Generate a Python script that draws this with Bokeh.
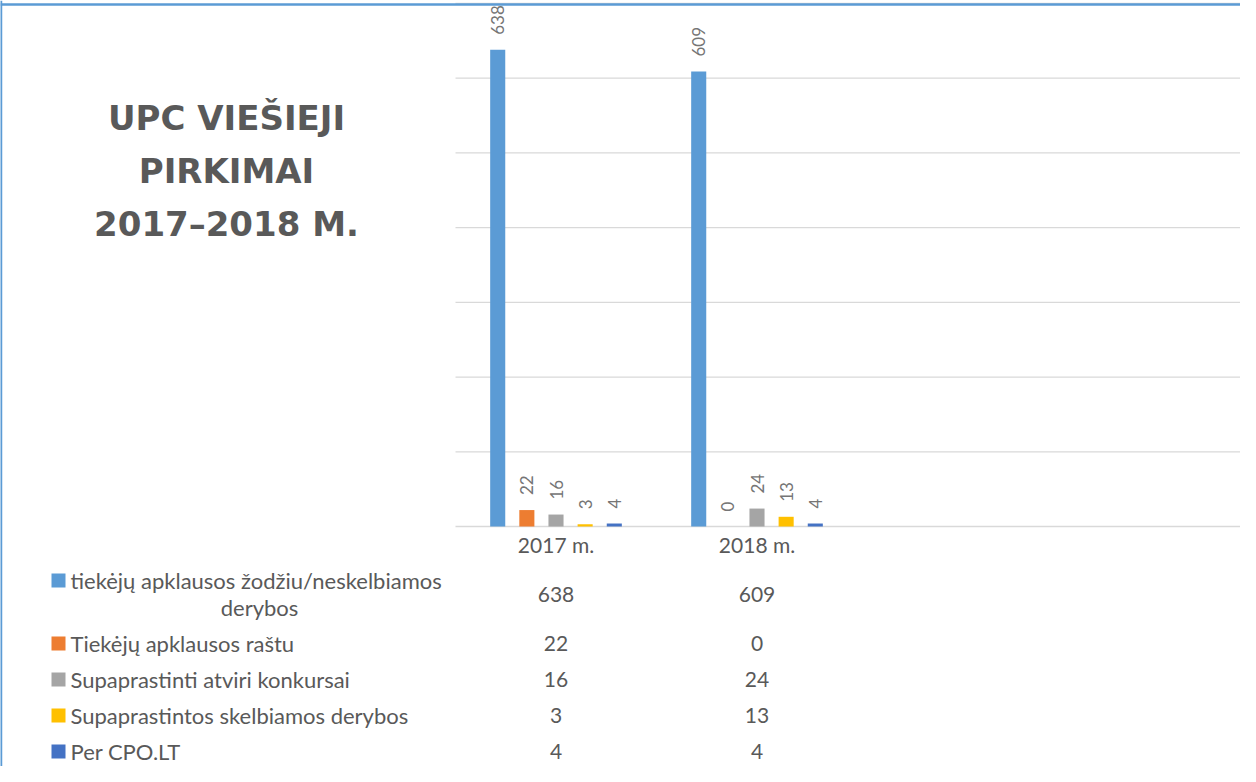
import math
import textwrap
from bokeh.plotting import figure
from bokeh.models import Range1d, ColumnDataSource
from bokeh.transform import dodge
from bokeh.core.properties import value
from bokeh.embed import file_html
from bokeh.resources import INLINE

# ---------------- data ----------------
title_lines = ["UPC VIEŠIEJI", "PIRKIMAI", "2017–2018 M."]
years = ["2017 m.", "2018 m."]
series_names = [
    "tiekėjų apklausos žodžiu/neskelbiamos derybos",
    "Tiekėjų apklausos raštu",
    "Supaprastinti atviri konkursai",
    "Supaprastintos skelbiamos derybos",
    "Per CPO.LT",
]
v_apklausos_zodziu = [638, 609]
v_apklausos_rastu = [22, 0]
v_atviri_konkursai = [16, 24]
v_skelbiamos_derybos = [3, 13]
v_cpo = [4, 4]
series_values = [v_apklausos_zodziu, v_apklausos_rastu, v_atviri_konkursai,
                 v_skelbiamos_derybos, v_cpo]
grid_values = [0, 100, 200, 300, 400, 500, 600, 700]

# ---------------- styles / layout ----------------
series_colors = ["#5B9BD5", "#ED7D31", "#A5A5A5", "#FFC000", "#4472C4"]
TEXT = "#595959"
LABEL = "#757575"
GRID = "#D9D9D9"
BORDER = "#5B9BD5"
FONT = "Lato"

FIG_W, FIG_H = 1240, 766
PLOT_LEFT, PLOT_TOP, PLOT_BOTTOM = 455, 3, 526   # figure pixels
CAT_W = 201                                      # pixels per category
Y_MAX = 700
ppu = (PLOT_BOTTOM - PLOT_TOP) / Y_MAX           # pixels per value unit
BAR_W = 0.075
BAR_STEP = 0.145
LABEL_GAP = 15                                   # px above the bar top

x_range = Range1d(-PLOT_LEFT / CAT_W, (FIG_W - PLOT_LEFT) / CAT_W)
y_range = Range1d(-(FIG_H - PLOT_BOTTOM) / ppu, Y_MAX + PLOT_TOP / ppu)

p = figure(width=FIG_W, height=FIG_H, x_range=x_range, y_range=y_range,
           output_backend="svg", toolbar_location=None, title=None,
           x_axis_location=None, y_axis_location=None, min_border=0,
           outline_line_color=None, background_fill_color="white",
           border_fill_color="white")
p.xgrid.visible = False
p.ygrid.visible = False
p.extra_x_ranges = {"px": Range1d(0, FIG_W)}
p.extra_y_ranges = {"px": Range1d(FIG_H, 0)}

cat_x = [i + 0.5 for i in range(len(years))]

# gridlines (value axis) and category baseline
p.segment(x0=[0] * len(grid_values), x1=[x_range.end] * len(grid_values),
          y0=grid_values, y1=grid_values, line_color=GRID, line_width=1.3)

# bars + rotated value labels
data = {"x": cat_x, "year": years}
for i, vals in enumerate(series_values):
    data[f"s{i}"] = vals
    data[f"t{i}"] = [str(v) for v in vals]
src = ColumnDataSource(data)
n = len(series_values)
for i in range(n):
    off = (i - (n - 1) / 2) * BAR_STEP
    p.vbar(x=dodge("x", off, range=p.x_range), top=f"s{i}", bottom=0,
           width=BAR_W, source=src, fill_color=series_colors[i], line_color=None)
    p.text(x=dodge("x", off, range=p.x_range),
           y=dodge(f"s{i}", LABEL_GAP / ppu, range=p.y_range),
           text=f"t{i}", source=src, angle=math.pi / 2,
           text_align="left", text_baseline="middle",
           text_font=value(FONT), text_font_size="17px", text_color=LABEL)

# category labels
p.text(x=cat_x, y=[544] * len(years), y_range_name="px", text=years,
       text_align="center", text_baseline="middle",
       text_font=value(FONT), text_font_size="21px", text_color=TEXT)

# data table (legend keys + values)
TABLE_TOP, ROW_H, LINE_H = 562, 36, 27
KEY_X, TEXT_X, WRAP_CX = 58, 70, 259
top = TABLE_TOP
for i, name in enumerate(series_names):
    lines = textwrap.wrap(name, 38)
    h = ROW_H + LINE_H * (len(lines) - 1)
    cy = top + h / 2
    first_y = cy - LINE_H * (len(lines) - 1) / 2
    p.scatter(x=[KEY_X], y=[first_y], x_range_name="px", y_range_name="px",
              marker="square", size=14, fill_color=series_colors[i], line_color=None)
    p.text(x=[TEXT_X], y=[first_y], x_range_name="px", y_range_name="px",
           text=[lines[0]], text_align="left", text_baseline="middle",
           text_font=value(FONT), text_font_size="22px", text_color=TEXT)
    for k, ln in enumerate(lines[1:], start=1):
        p.text(x=[WRAP_CX], y=[first_y + LINE_H * k], x_range_name="px",
               y_range_name="px", text=[ln], text_align="center",
               text_baseline="middle", text_font=value(FONT),
               text_font_size="22px", text_color=TEXT)
    p.text(x=cat_x, y=[cy] * len(years), y_range_name="px",
           text=[str(v) for v in series_values[i]], text_align="center",
           text_baseline="middle", text_font=value(FONT),
           text_font_size="21px", text_color=TEXT)
    top += h

# title
TITLE_CX, TITLE_Y0, TITLE_DY = 226, 117, 53
p.text(x=[TITLE_CX] * len(title_lines),
       y=[TITLE_Y0 + TITLE_DY * k for k in range(len(title_lines))],
       x_range_name="px", y_range_name="px", text=title_lines,
       text_align="center", text_baseline="middle",
       text_font=value("DejaVu Sans"), text_font_style="bold",
       text_font_size="34px", text_color=TEXT)

# chart border (left and top edges visible)
p.segment(x0=[0.5, 0], y0=[0, 4], x1=[0.5, FIG_W], y1=[FIG_H, 4],
          x_range_name="px", y_range_name="px", line_color=BORDER, line_width=2.5)

open("out.html", "w").write(file_html(p, INLINE))
